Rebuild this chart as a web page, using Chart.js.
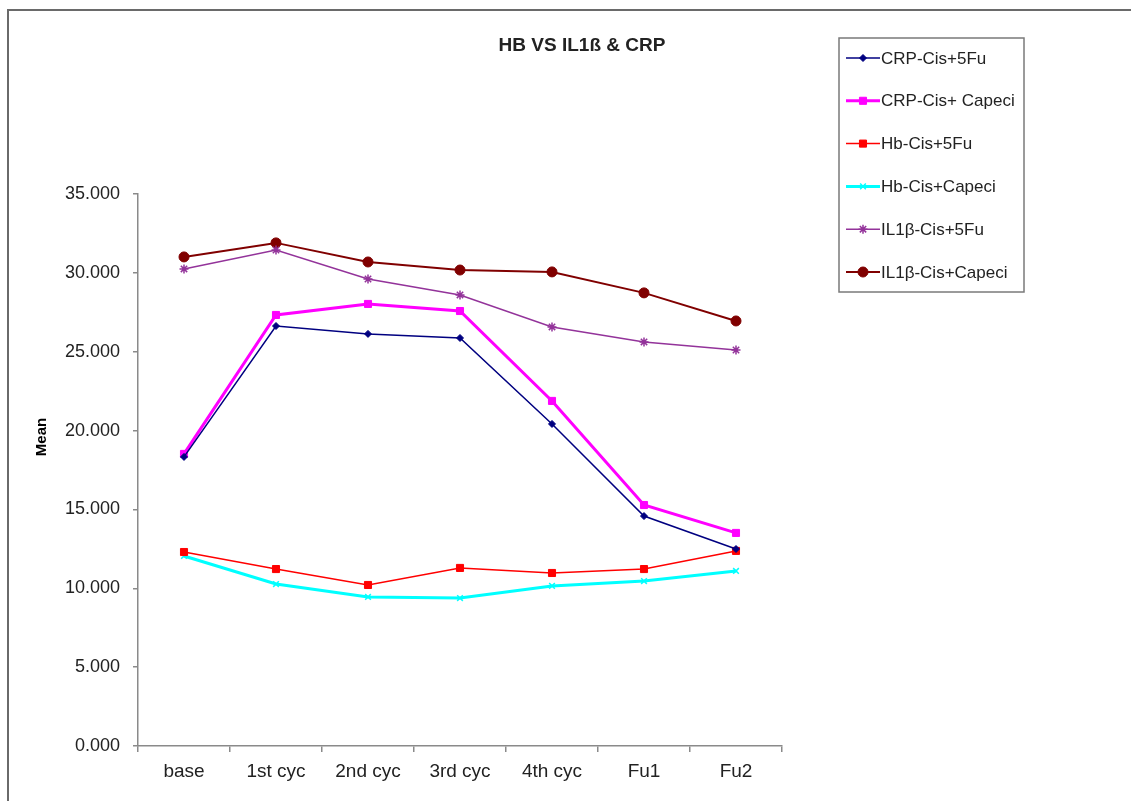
<!DOCTYPE html>
<html>
<head>
<meta charset="utf-8">
<title>HB VS IL1ß & CRP</title>
<script src="https://cdn.jsdelivr.net/npm/chart.js@4.4.1/dist/chart.umd.min.js"></script>
<style>
  html, body { margin: 0; padding: 0; background: #ffffff; }
  #wrap { position: relative; width: 1131px; height: 801px; }
  canvas { display: block; }
</style>
</head>
<body>
<div id="wrap"><canvas id="chart" width="1131" height="801"></canvas></div>
<script>
// Visit labels along the x axis
const categories = ['base', '1st cyc', '2nd cyc', '3rd cyc', '4th cyc', 'Fu1', 'Fu2'];

// Mean values per group
const crpCis5Fu     = [18.33, 26.63, 26.13, 25.87, 20.42, 14.58, 12.49];
const crpCisCapeci  = [18.52, 27.33, 28.03, 27.58, 21.88, 15.28, 13.51];
const hbCis5Fu      = [12.30, 11.22, 10.21, 11.29, 10.97, 11.22, 12.37];
const hbCisCapeci   = [12.05, 10.27,  9.45,  9.38, 10.15, 10.46, 11.10];
const il1bCis5Fu    = [30.25, 31.45, 29.61, 28.60, 26.57, 25.62, 25.11];
const il1bCisCapeci = [31.01, 31.90, 30.69, 30.18, 30.06, 28.73, 26.95];

// Y axis range and step
const yTicks = [0, 5, 10, 15, 20, 25, 30, 35];

const seriesNames = ['CRP-Cis+5Fu', 'CRP-Cis+ Capeci', 'Hb-Cis+5Fu', 'Hb-Cis+Capeci', 'IL1β-Cis+5Fu', 'IL1β-Cis+Capeci'];

const FONT = '"Liberation Sans", Arial, sans-serif';

function series(label, data, color, width, style, radius) {
  return {
    label, data,
    borderColor: color, backgroundColor: color,
    pointBorderColor: color, pointBackgroundColor: color,
    borderWidth: width, pointStyle: style, pointRadius: radius,
    pointBorderWidth: style === 'crossRot' || style === 'star' ? 1.5 : 1,
    tension: 0, fill: false
  };
}

const datasets = [
  series(seriesNames[0], crpCis5Fu,     '#000080', 1.5, 'rectRot', 3.5),
  series(seriesNames[1], crpCisCapeci,  '#FF00FF', 3,   'rect',    5),
  series(seriesNames[2], hbCis5Fu,      '#FF0000', 1.5, 'rect',    5),
  series(seriesNames[3], hbCisCapeci,   '#00FFFF', 3,   'crossRot',4),
  series(seriesNames[4], il1bCis5Fu,    '#93339A', 1.5, 'star',    4.5),
  series(seriesNames[5], il1bCisCapeci, '#800000', 2,   'circle',  5)
];

// Frame, title, axis title and boxed legend
const decorations = {
  id: 'decorations',
  beforeDraw(chart) {
    const ctx = chart.ctx;
    ctx.save();
    ctx.fillStyle = '#ffffff';
    ctx.fillRect(0, 0, chart.width, chart.height);
    ctx.strokeStyle = '#6a6a6a';
    ctx.lineWidth = 2;
    ctx.beginPath();
    ctx.moveTo(8, chart.height);
    ctx.lineTo(8, 10);
    ctx.lineTo(chart.width, 10);
    ctx.stroke();
    ctx.restore();
  },
  afterDraw(chart) {
    const ctx = chart.ctx;
    ctx.save();
    // Title
    ctx.fillStyle = '#222222';
    ctx.font = 'bold 19px ' + FONT;
    ctx.textAlign = 'center';
    ctx.textBaseline = 'middle';
    ctx.fillText('HB VS IL1ß & CRP', 582, 46);

    // Y axis title
    ctx.save();
    ctx.translate(42, 437);
    ctx.rotate(-Math.PI / 2);
    ctx.font = 'bold 15px ' + FONT;
    ctx.fillStyle = '#000000';
    ctx.fillText('Mean', 0, 0);
    ctx.restore();

    // Legend box
    const lx = 839, ly = 38, lw = 185, lh = 254;
    ctx.strokeStyle = '#7a7a7a';
    ctx.lineWidth = 1.5;
    ctx.strokeRect(lx, ly, lw, lh);
    ctx.font = '17px ' + FONT;
    ctx.textAlign = 'left';
    ctx.textBaseline = 'middle';
    chart.data.datasets.forEach((ds, i) => {
      const y = 58 + i * 42.8;
      ctx.strokeStyle = ds.borderColor;
      ctx.lineWidth = ds.borderWidth;
      ctx.beginPath();
      ctx.moveTo(846, y);
      ctx.lineTo(880, y);
      ctx.stroke();
      ctx.fillStyle = ds.pointBackgroundColor;
      ctx.strokeStyle = ds.pointBorderColor;
      ctx.lineWidth = ds.pointBorderWidth;
      Chart.helpers.drawPoint(ctx, {
        pointStyle: ds.pointStyle,
        radius: ds.pointRadius,
        borderWidth: ds.pointBorderWidth,
        rotation: 0
      }, 863, y);
      ctx.fillStyle = '#222222';
      ctx.fillText(ds.label, 881, y + 1);
    });
    ctx.restore();
  }
};

new Chart(document.getElementById('chart'), {
  type: 'line',
  data: { labels: categories, datasets },
  options: {
    responsive: false,
    animation: false,
    layout: { padding: { left: 0, top: 194, right: 349, bottom: 0 } },
    plugins: {
      legend: { display: false },
      title: { display: false },
      tooltip: { enabled: false }
    },
    scales: {
      x: {
        type: 'category',
        offset: true,
        afterFit(scale) { scale.height = 55; },
        border: { display: true, color: '#8a8a8a', width: 1.5 },
        grid: { offset: true, drawOnChartArea: false, drawTicks: true, tickLength: 6, color: '#8a8a8a', lineWidth: 1.5 },
        ticks: { color: '#222222', font: { family: FONT, size: 19 }, padding: 8, maxRotation: 0 }
      },
      y: {
        min: yTicks[0],
        max: yTicks[yTicks.length - 1],
        afterFit(scale) { scale.width = 138; },
        afterBuildTicks(scale) { scale.ticks = yTicks.map(v => ({ value: v })); },
        border: { display: true, color: '#8a8a8a', width: 1.5 },
        grid: { drawOnChartArea: false, drawTicks: true, tickLength: 5, color: '#8a8a8a', lineWidth: 1.5 },
        ticks: {
          color: '#222222', font: { family: FONT, size: 18 }, padding: 13,
          callback: v => v.toFixed(3)
        }
      }
    }
  },
  plugins: [decorations]
});
</script>
</body>
</html>
